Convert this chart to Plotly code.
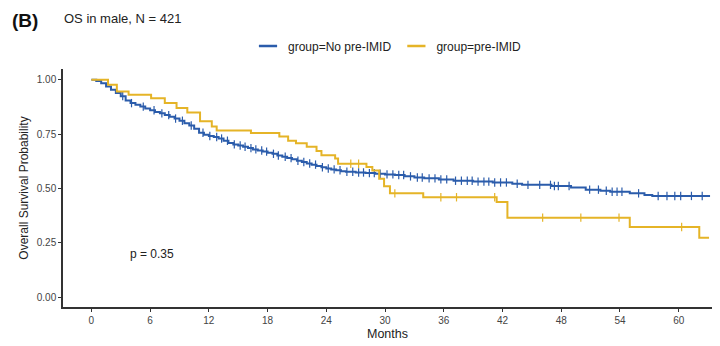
import numpy as np
import plotly.graph_objects as go

# Kaplan-Meier estimates (months, survival probability after each event)
no_imid_time = [0, 0.5, 1.0, 1.5, 2.0, 2.5, 3.0, 3.5, 4.0, 4.5, 5.0, 5.5, 6.0, 6.5, 7.0, 7.5,
                8.0, 8.5, 9.0, 9.5, 10.0, 10.5, 11.0, 11.5, 12.0, 12.5, 13.0, 13.5, 14.0, 14.5,
                15.0, 15.5, 16.0, 16.5, 17.0, 17.5, 18.0, 18.5, 19.0, 19.5, 20.0, 20.5, 21.0,
                21.5, 22.0, 22.5, 23.0, 23.5, 24.0, 24.5, 25.0, 25.5, 26.0, 27.0, 28.0, 29.0,
                30.0, 31.0, 32.0, 33.0, 34.0, 35.5, 37.0, 39.0, 41.0, 43.0, 44.0, 47.0, 49.0,
                50.5, 52.0, 53.0, 55.0, 56.5, 57.3]
no_imid_surv = [1.0, 0.995, 0.985, 0.97, 0.955, 0.94, 0.925, 0.905, 0.893, 0.885, 0.877, 0.868,
                0.86, 0.852, 0.846, 0.838, 0.83, 0.822, 0.812, 0.80, 0.79, 0.775, 0.757, 0.748,
                0.742, 0.737, 0.73, 0.72, 0.71, 0.703, 0.698, 0.692, 0.686, 0.68, 0.675, 0.67,
                0.665, 0.66, 0.652, 0.646, 0.64, 0.635, 0.628, 0.622, 0.615, 0.61, 0.604, 0.598,
                0.592, 0.588, 0.584, 0.58, 0.577, 0.574, 0.571, 0.568, 0.565, 0.562, 0.556,
                0.551, 0.547, 0.542, 0.536, 0.532, 0.528, 0.522, 0.517, 0.512, 0.505, 0.495,
                0.49, 0.485, 0.478, 0.47, 0.466]
no_imid_end = 63.2
no_imid_censor = [3.2, 4.1, 5.3, 6.4, 7.2, 7.9, 8.6, 9.3, 10.2, 11.4, 12.1, 12.8, 13.3, 13.9,
                  14.6, 15.2, 15.7, 16.3, 16.8, 17.4, 17.9, 18.6, 19.1, 19.8, 20.4, 21.1, 21.7,
                  22.3, 22.9, 23.6, 24.2, 24.8, 25.4, 26.1, 26.7, 27.3, 27.8, 28.4, 28.9, 29.5,
                  30.2, 30.8, 31.4, 31.9, 32.6, 33.3, 33.8, 34.5, 35.1, 35.7, 36.3, 37.2, 37.8,
                  38.4, 38.9, 39.5, 40.1, 40.6, 41.2, 41.8, 42.4, 43.5, 44.6, 45.8, 46.9, 47.3,
                  47.7, 48.8, 50.9, 51.8, 52.6, 53.2, 53.7, 54.2, 55.9, 57.9, 58.8, 59.6, 60.2,
                  61.3, 62.4]

imid_time = [0, 1.7, 2.6, 3.8, 6.1, 7.5, 8.7, 9.8, 11.1, 12.3, 12.8, 16.3, 19.2, 20.1, 20.9,
             22.0, 23.0, 23.5, 24.9, 25.2, 28.1, 28.7, 29.4, 29.9, 30.5, 33.9, 41.4, 42.5,
             55.0, 62.1]
imid_surv = [1.0, 0.977, 0.946, 0.931, 0.916, 0.893, 0.87, 0.85, 0.81, 0.785, 0.767, 0.755,
             0.739, 0.72, 0.708, 0.692, 0.673, 0.653, 0.638, 0.614, 0.599, 0.583, 0.545, 0.51,
             0.478, 0.46, 0.438, 0.366, 0.323, 0.274]
imid_end = 63.1
imid_censor = [26.5, 27.3, 31.0, 35.7, 37.3, 41.2, 46.1, 50.0, 53.9, 60.3]

x_ticks = [0, 6, 12, 18, 24, 30, 36, 42, 48, 54, 60]
y_ticks = [0.0, 0.25, 0.5, 0.75, 1.0]
y_tick_text = ["0.00", "0.25", "0.50", "0.75", "1.00"]

BLUE = "#2B5CAB"
GOLD = "#E5B427"
FONT = "Arial, Liberation Sans, sans-serif"


def surv_at(times, surv, t):
    idx = np.searchsorted(np.asarray(times), np.asarray(t), side="right") - 1
    return np.asarray(surv)[idx]


fig = go.Figure()

for name, times, surv, end, cens, col in [
    ("group=No pre-IMID", no_imid_time, no_imid_surv, no_imid_end, no_imid_censor, BLUE),
    ("group=pre-IMID", imid_time, imid_surv, imid_end, imid_censor, GOLD),
]:
    xs = list(times) + [end]
    ys = list(surv) + [surv[-1]]
    fig.add_trace(go.Scatter(
        x=xs, y=ys, mode="lines", line=dict(color=col, width=2, shape="hv"),
        showlegend=False, hoverinfo="skip"))
    fig.add_trace(go.Scatter(
        x=cens, y=surv_at(times, surv, cens), mode="markers",
        marker=dict(symbol="line-ns", size=6, line=dict(color=col, width=1.2)),
        showlegend=False, hoverinfo="skip"))
    # legend key: a short horizontal stroke in the group colour
    fig.add_trace(go.Scatter(
        x=[None], y=[None], mode="markers", name=name,
        marker=dict(symbol="line-ew", size=13, line=dict(color=col, width=2.5))))

fig.add_annotation(x=3.7, y=0.198, xref="x", yref="y", text="p = 0.35", showarrow=False,
                   xanchor="left", yanchor="middle", font=dict(size=12, color="#222", family=FONT))

fig.add_annotation(x=10, y=20, xref="paper", yref="paper", text="<b>(B)</b>", showarrow=False,
                   xanchor="left", yanchor="middle", font=dict(size=19, color="#111", family=FONT))
fig.add_annotation(x=62, y=18, xref="paper", yref="paper", text="OS in male, N = 421",
                   showarrow=False, xanchor="left", yanchor="middle",
                   font=dict(size=13, color="#222", family=FONT))

# place the header annotations in pixel terms
W, H = 720, 346
ML, MR, MT, MB = 63, 8, 69, 39
pw, ph = W - ML - MR, H - MT - MB
for ann in fig.layout.annotations[1:]:
    ann.x = (ann.x - ML) / pw
    ann.y = (H - MB - ann.y) / ph

fig.update_layout(
    width=W, height=H,
    margin=dict(l=ML, r=MR, t=MT, b=MB),
    paper_bgcolor="white", plot_bgcolor="white",
    font=dict(family=FONT, color="#222"),
    legend=dict(orientation="h", x=0.5, xanchor="center", y=1.0 + (MT - 46) / ph,
                yanchor="middle", font=dict(size=12, color="#222", family=FONT),
                itemwidth=30, tracegroupgap=0),
    xaxis=dict(range=[-2.9, 63.4], tickvals=x_ticks, showline=True, linecolor="#333",
               linewidth=1.5, ticks="outside", ticklen=3, tickcolor="#333", showgrid=False,
               zeroline=False, tickfont=dict(size=10, color="#444"),
               title=dict(text="Months", font=dict(size=12.5, color="#222"), standoff=4)),
    yaxis=dict(range=[-0.045, 1.05], tickvals=y_ticks, ticktext=y_tick_text, showline=True,
               linecolor="#333", linewidth=1.5, ticks="outside", ticklen=3, tickcolor="#333",
               showgrid=False, zeroline=False, tickfont=dict(size=10, color="#444"),
               title=dict(text="Overall Survival Probability", font=dict(size=12, color="#222"),
                          standoff=6)),
)

fig.write_html("out.html")
